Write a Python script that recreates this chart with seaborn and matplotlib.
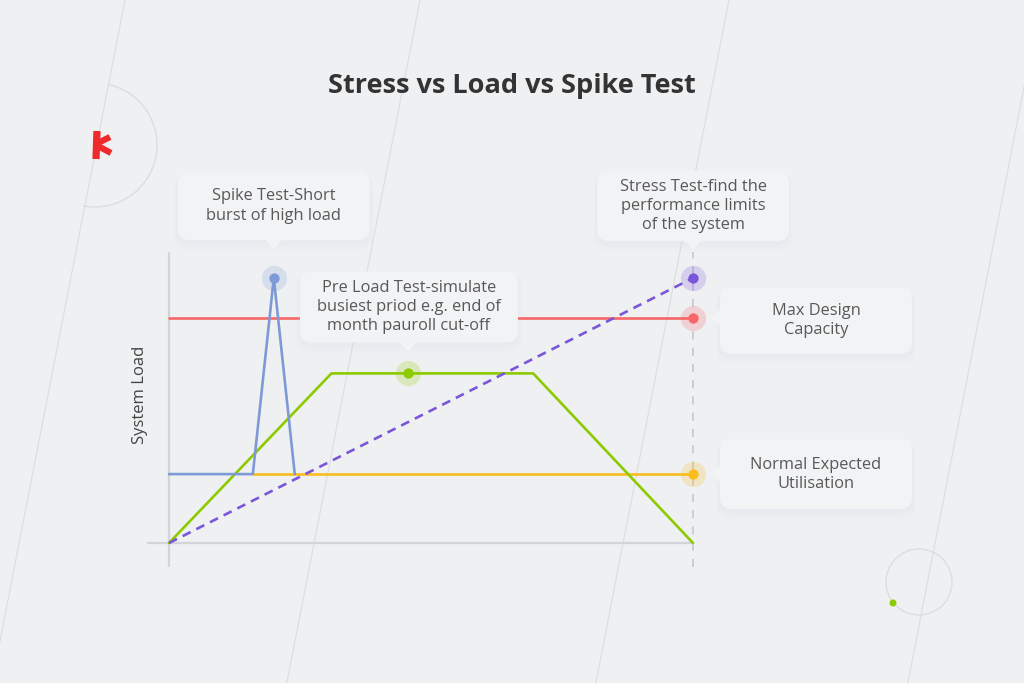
import numpy as np
import pandas as pd
import matplotlib
matplotlib.use("Agg")
import matplotlib.pyplot as plt
import seaborn as sns
from matplotlib.patches import FancyBboxPatch, Polygon, Arc, Circle

# ---------------- data ----------------
spike_time = [0, 16, 20, 24]
spike_load = [26, 26, 100, 26]
normal_time = [16, 100]
normal_load = [26, 26]
capacity_time = [0, 100]
capacity_load = [85, 85]
preload_time = [0, 31, 69.5, 100]
preload_load = [0, 64, 64, 0]
stress_time = [0, 100]
stress_load = [0, 100]

marker_time = [20, 45.6, 100, 100, 100]
marker_load = [100, 64, 100, 85, 26]
marker_names = ["spike", "preload", "stress", "capacity", "normal"]

label_spike = "Spike Test-Short\nburst of high load"
label_stress = "Stress Test-find the\nperformance limits\nof the system"
label_preload = "Pre Load Test-simulate\nbusiest priod e.g. end of\nmonth pauroll cut-off"
label_capacity = "Max Design\nCapacity"
label_normal = "Normal Expected\nUtilisation"
title_text = "Stress vs Load vs Spike Test"
ylabel_text = "System Load"

# ---------------- style ----------------
BG = "#eff0f2"
BLUE = "#7e9ad6"
RED = "#f86666"
GREEN = "#8dca00"
YELLOW = "#fbbd1e"
PURPLE = "#7a56d8"
AXIS = "#d2d4d8"
TEXT = "#585858"
colors = {"spike": BLUE, "preload": GREEN, "stress": PURPLE,
          "capacity": RED, "normal": YELLOW}

sns.set_theme(style="white")
plt.rcParams["font.family"] = ["Open Sans", "DejaVu Sans"]

W, H = 1024, 683
fig = plt.figure(figsize=(W / 100, H / 100), dpi=100, facecolor=BG)

# background decoration axes (pixel coordinates, y down)
bg = fig.add_axes([0, 0, 1, 1], zorder=0)
bg.set_xlim(0, W)
bg.set_ylim(H, 0)
bg.axis("off")
bg.set_facecolor(BG)
for x0 in [125, 420, 729, 1041]:
    ys = np.array([0, H])
    bg.plot(x0 - 0.195 * ys, ys, color="#dcdde0", lw=0.8)
bg.add_patch(Arc((95, 145), 124, 124, theta1=-78, theta2=101,
                 color="#dcdde0", lw=1.0))
bg.add_patch(Circle((919, 582), 33, fill=False, ec="#dcdde0", lw=1.0))
bg.add_patch(Circle((893, 603), 3.5, color=GREEN, lw=0))
# red logo fragment
bg.plot([97, 96], [131, 159], color="#ee2a2a", lw=5.2, solid_capstyle="butt")
bg.plot([98, 110], [143, 137], color="#ee2a2a", lw=4.5, solid_capstyle="butt")
bg.plot([98, 111], [146, 153], color="#ee2a2a", lw=4.5, solid_capstyle="butt")

# main data axes
ax = fig.add_axes([0, 0, 1, 1], zorder=1)
ax.patch.set_alpha(0)
px_t, px_l = 5.24, 2.65
ax.set_xlim(-169 / px_t, (W - 169) / px_t)
ax.set_ylim((543 - H) / px_l, 543 / px_l)
ax.axis("off")

# axes lines
ax.plot([-4, 100], [0, 0], color=AXIS, lw=1.6, zorder=1)
ax.plot([0, 0], [-8.7, 109.4], color=AXIS, lw=1.6, zorder=1)
ax.plot([100, 100], [-9, 110], color="#c9cbd0", lw=1.3,
        dashes=(4.5, 4.5), zorder=1)

lw = 1.9
sns.lineplot(x=capacity_time, y=capacity_load, ax=ax, color=RED, lw=lw,
             sort=False, estimator=None, zorder=2)
sns.lineplot(x=normal_time, y=normal_load, ax=ax, color=YELLOW, lw=lw,
             sort=False, estimator=None, zorder=2)
sns.lineplot(x=preload_time, y=preload_load, ax=ax, color=GREEN, lw=lw,
             sort=False, estimator=None, zorder=3)
sns.lineplot(x=spike_time, y=spike_load, ax=ax, color=BLUE, lw=lw,
             sort=False, estimator=None, zorder=3)
sns.lineplot(x=stress_time, y=stress_load, ax=ax, color=PURPLE,
             lw=1.9, sort=False, estimator=None, zorder=4)
ax.lines[-1].set_dashes((3.4, 2.4))

mdf = pd.DataFrame({"t": marker_time, "l": marker_load, "name": marker_names})
for _, r in mdf.iterrows():
    ax.scatter(r.t, r.l, s=330, color=colors[r["name"]], alpha=0.22,
               lw=0, zorder=5)
    ax.scatter(r.t, r.l, s=55, color=colors[r["name"]], lw=0, zorder=6)

fig.text(140 / W, 1 - 395 / H, ylabel_text, rotation=90, ha="center",
         va="center", fontsize=12, color="#444444")
fig.text(512 / W, 1 - 86 / H, title_text, ha="center", va="center",
         fontsize=19.5, fontweight="bold", color="#333333")

# overlay axes for callouts (pixel coords)
ov = fig.add_axes([0, 0, 1, 1], zorder=2)
ov.set_xlim(0, W)
ov.set_ylim(H, 0)
ov.axis("off")
ov.patch.set_alpha(0)


def to_px(t, l):
    x, y = ax.transData.transform((t, l))
    return x, H - y


def callout(anchor, cx, cy, w, h, text, side):
    ax_, ay_ = anchor
    for k, a in [(8, 0.03), (5, 0.035), (2, 0.04)]:
        ov.add_patch(FancyBboxPatch((cx - w / 2 - k / 2, cy - h / 2 + 2),
                                    w + k, h + k,
                                    boxstyle="round,pad=0,rounding_size=14",
                                    fc="#c4ccda", ec="none", alpha=a, zorder=1))
    ov.add_patch(FancyBboxPatch((cx - w / 2, cy - h / 2), w, h,
                                boxstyle="round,pad=0,rounding_size=12",
                                fc="#f2f3f5", ec="none", zorder=2))
    if side == "down":
        tri = [(ax_ - 9, cy + h / 2 - 1), (ax_ + 9, cy + h / 2 - 1),
               (ax_, cy + h / 2 + 9)]
    else:
        tri = [(cx - w / 2 + 1, ay_ - 9), (cx - w / 2 + 1, ay_ + 9),
               (cx - w / 2 - 10, ay_)]
    ov.add_patch(Polygon(tri, closed=True, fc="#f2f3f5", ec="none", zorder=2))
    ov.text(cx, cy, text, ha="center", va="center", fontsize=11.8,
            color=TEXT, linespacing=1.26, zorder=3)


a = to_px(spike_time[2], spike_load[2])
callout(a, a[0], 206, 192, 68, label_spike, "down")
a = to_px(stress_time[1], stress_load[1])
callout(a, a[0], 206, 192, 70, label_stress, "down")
a = to_px(marker_time[1], marker_load[1])
callout(a, a[0] + 1, 307, 218, 71, label_preload, "down")
a = to_px(capacity_time[1], capacity_load[1])
callout(a, 816, a[1] + 3, 192, 66, label_capacity, "left")
a = to_px(normal_time[1], normal_load[1])
callout(a, 816, a[1], 192, 70, label_normal, "left")

fig.savefig("out.png", dpi=100, facecolor=BG)
